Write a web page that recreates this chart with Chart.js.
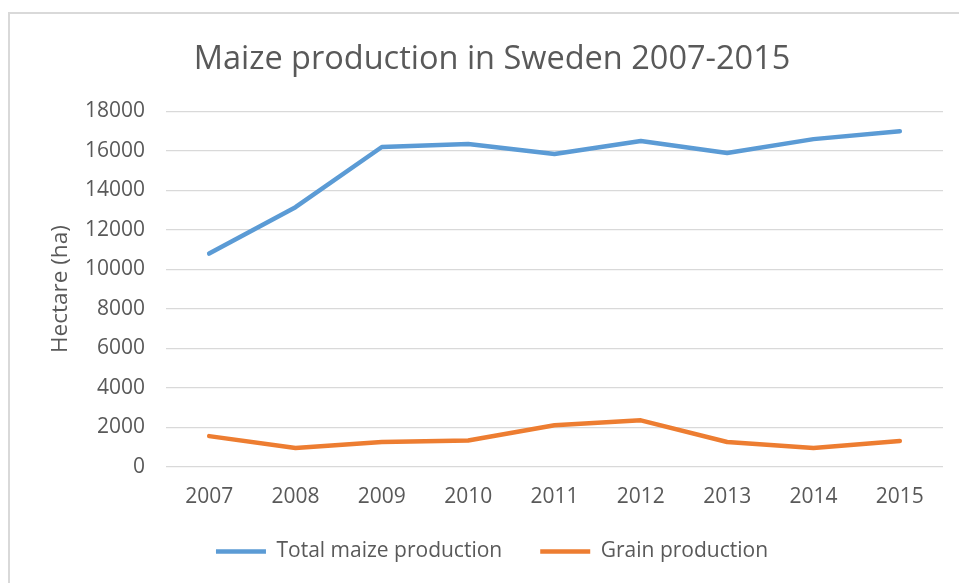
<!DOCTYPE html>
<html>
<head>
<meta charset="utf-8">
<script src="https://cdn.jsdelivr.net/npm/chart.js@4/dist/chart.umd.min.js"></script>
<style>
  html, body { margin: 0; padding: 0; background: #fff; overflow: hidden; width: 959px; height: 583px; }
  #frame { position: absolute; left: 8px; top: 12px; width: 980px; height: 620px;
           border-left: 2px solid #d9d9d9; border-top: 2px solid #d9d9d9; box-sizing: border-box; }
  #wrap { position: absolute; left: 10px; top: 14px; width: 960px; height: 600px; }
</style>
</head>
<body>
<div id="frame"></div>
<div id="wrap"><canvas id="c"></canvas></div>
<script>
const years = ['2007','2008','2009','2010','2011','2012','2013','2014','2015'];
const totalMaize = [10800, 13150, 16200, 16350, 15850, 16500, 15900, 16600, 17000];
const grainProduction = [1550, 950, 1250, 1330, 2100, 2350, 1250, 950, 1300];
const yTicks = [0, 2000, 4000, 6000, 8000, 10000, 12000, 14000, 16000, 18000];

const FONT = "'Open Sans', 'Noto Sans', sans-serif";
const TXT = '#595959';

new Chart(document.getElementById('c'), {
  type: 'line',
  data: {
    labels: years,
    datasets: [
      { label: 'Total maize production', data: totalMaize, borderColor: '#5B9BD5', backgroundColor: '#5B9BD5',
        borderWidth: 4.5, pointRadius: 0, tension: 0, borderCapStyle: 'round', borderJoinStyle: 'round' },
      { label: 'Grain production', data: grainProduction, borderColor: '#ED7D31', backgroundColor: '#ED7D31',
        borderWidth: 4.5, pointRadius: 0, tension: 0, borderCapStyle: 'round', borderJoinStyle: 'round' }
    ]
  },
  options: {
    responsive: true,
    maintainAspectRatio: false,
    animation: false,
    layout: { padding: { top: 0, left: 31, right: 27, bottom: 42 } },
    plugins: {
      title: { display: true, text: 'Maize production in Sweden 2007-2015', color: TXT,
               font: { family: FONT, size: 32.5, weight: 'normal' }, padding: { top: 26, bottom: 32.5 } },
      legend: { position: 'bottom',
        labels: { color: TXT, font: { family: FONT, size: 21 }, usePointStyle: true, pointStyle: 'line',
                  pointStyleWidth: 50, boxHeight: 21, padding: 38 } },
      tooltip: { enabled: false }
    },
    scales: {
      x: {
        offset: true,
        grid: { display: false, drawTicks: false },
        border: { display: false },
        ticks: { color: TXT, font: { family: FONT, size: 21 }, padding: 18, maxRotation: 0 },
        afterFit: (s) => { s.height = 36.3; }
      },
      y: {
        min: 0, max: 18000,
        afterBuildTicks: (s) => { s.ticks = yTicks.map(v => ({ value: v })); },
        grid: { color: '#d9d9d9', lineWidth: 1.3, drawTicks: false },
        border: { display: false },
        ticks: { color: TXT, font: { family: FONT, size: 21 }, padding: 21, callback: (v) => String(v) },
        title: { display: true, text: 'Hectare (ha)', color: TXT, font: { family: FONT, size: 22.5 }, padding: { top: 6, bottom: 0 } },
        afterFit: (s) => { s.width = 125; }
      }
    }
  }
});
</script>
</body>
</html>
